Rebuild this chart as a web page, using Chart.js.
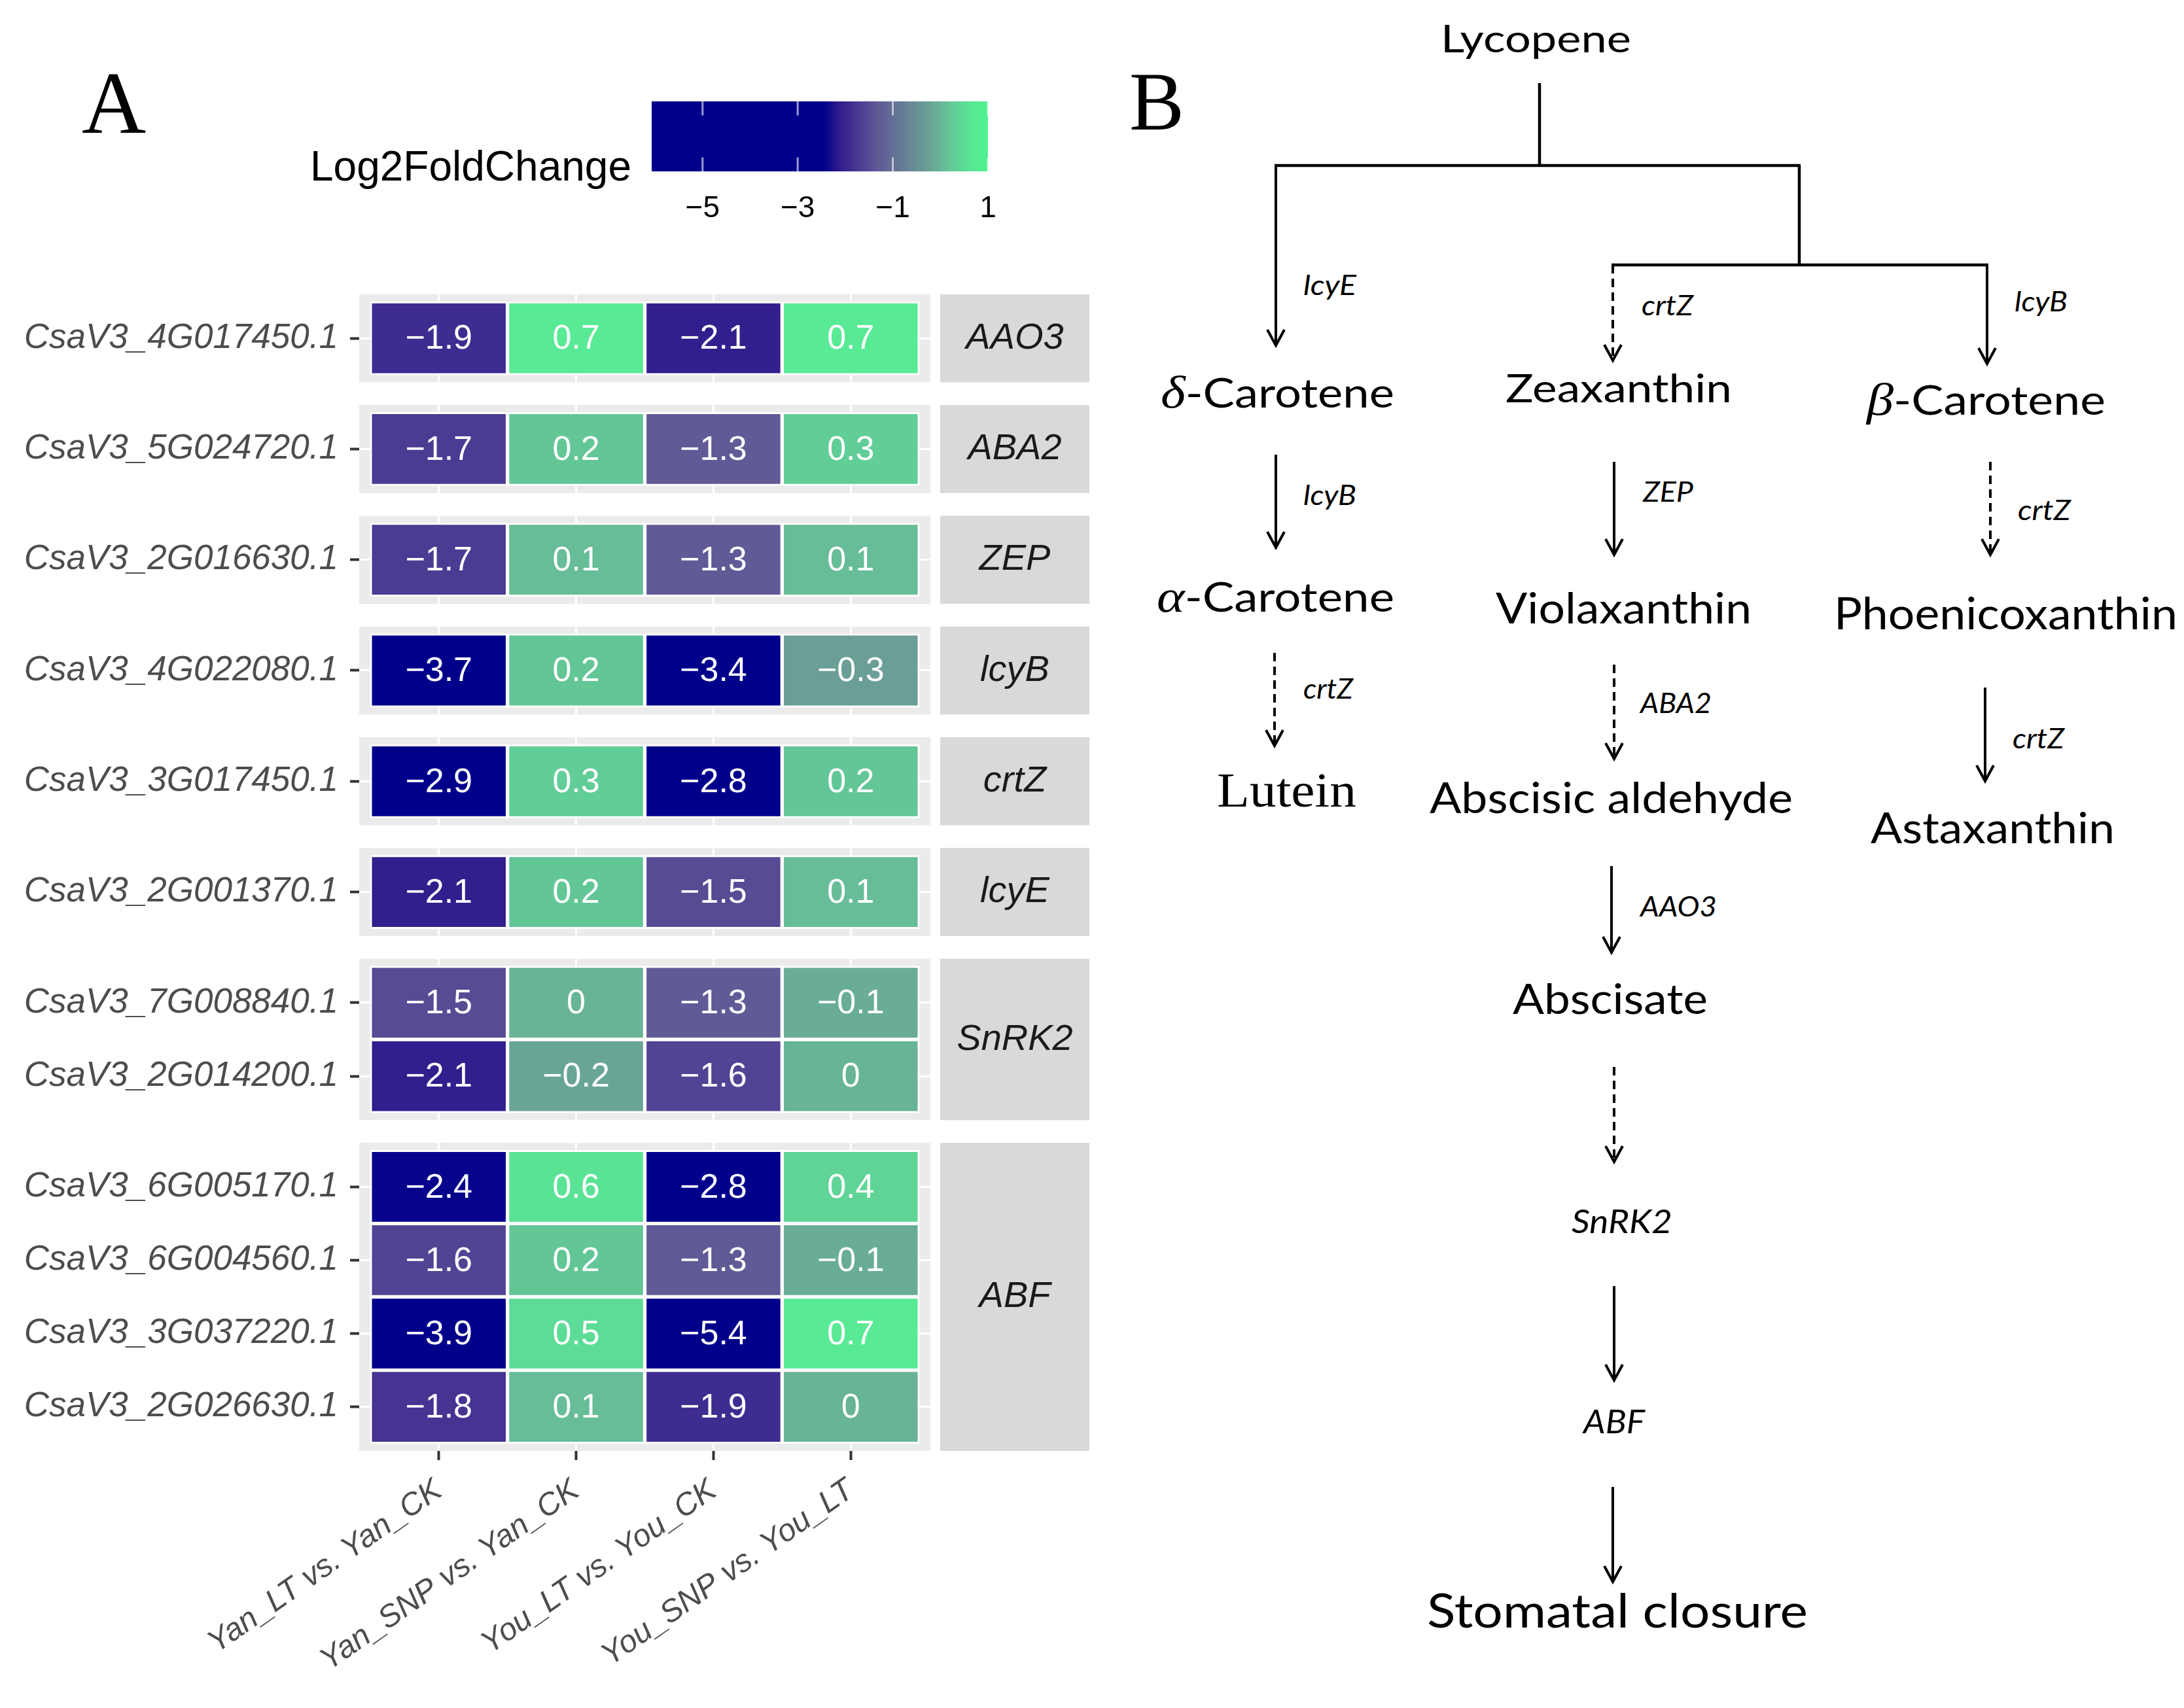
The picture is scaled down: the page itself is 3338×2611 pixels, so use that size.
<!DOCTYPE html>
<html>
<head>
<meta charset="utf-8">
<script src="https://cdn.jsdelivr.net/npm/chart.js@4.4.1/dist/chart.umd.min.js"></script>
<style>
  html, body { margin: 0; padding: 0; background: #fff; }
  #page { position: relative; width: 3338px; height: 2611px; overflow: hidden; background: #fff; }
  #pathway { position: absolute; left: 0; top: 0; }
  #heat { position: absolute; left: 0; top: 400px; }
  #scaleBar { position: absolute; left: 400px; top: 100px; }
</style>
</head>
<body>
<div id="page">
  <svg id="pathway" width="3338" height="2611" xmlns="http://www.w3.org/2000/svg"></svg>
  <canvas id="heat" width="1700" height="2211"></canvas>
  <canvas id="scaleBar" width="1200" height="300"></canvas>
</div>
<script>
// --- data ---
const comparisons = ['Yan_LT vs. Yan_CK', 'Yan_SNP vs. Yan_CK', 'You_LT vs. You_CK', 'You_SNP vs. You_LT'];
const genes = ['CsaV3_4G017450.1', 'CsaV3_5G024720.1', 'CsaV3_2G016630.1', 'CsaV3_4G022080.1',
  'CsaV3_3G017450.1', 'CsaV3_2G001370.1', 'CsaV3_7G008840.1', 'CsaV3_2G014200.1',
  'CsaV3_6G005170.1', 'CsaV3_6G004560.1', 'CsaV3_3G037220.1', 'CsaV3_2G026630.1'];
const geneGroups = ['AAO3', 'ABA2', 'ZEP', 'lcyB', 'crtZ', 'lcyE', 'SnRK2', 'SnRK2', 'ABF', 'ABF', 'ABF', 'ABF'];
const yanLT  = [-1.9, -1.7, -1.7, -3.7, -2.9, -2.1, -1.5, -2.1, -2.4, -1.6, -3.9, -1.8];
const yanSNP = [0.7, 0.2, 0.1, 0.2, 0.3, 0.2, 0, -0.2, 0.6, 0.2, 0.5, 0.1];
const youLT  = [-2.1, -1.3, -1.3, -3.4, -2.8, -1.5, -1.3, -1.6, -2.8, -1.3, -5.4, -1.9];
const youSNP = [0.7, 0.3, 0.1, -0.3, 0.2, 0.1, -0.1, 0, 0.4, -0.1, 0.7, 0];
const legendTicks = [-5, -3, -1, 1];
const legendRange = [-6.07, 1];

const columns = [yanLT, yanSNP, youLT, youSNP];

// colour ramp (darkblue -> grey-violet -> seagreen)
const rampStops = [
  [-6.1, '#00008B'], [-2.45, '#00008B'], [-2.1, '#331E8D'], [-1.9, '#3F2C90'],
  [-1.7, '#4C3B93'], [-1.5, '#574B94'], [-1.3, '#605A96'], [-0.3, '#6A9E96'],
  [0, '#68B497'], [0.2, '#63C697'], [0.7, '#58EA95'], [1, '#4DF290']
];
function hexToRgb(h) {
  const n = parseInt(h.slice(1), 16);
  return [(n >> 16) & 255, (n >> 8) & 255, n & 255];
}
function fillFor(v) {
  if (v <= rampStops[0][0]) return rampStops[0][1];
  for (let i = 1; i < rampStops.length; i++) {
    if (v <= rampStops[i][0]) {
      const [v0, c0] = rampStops[i - 1];
      const [v1, c1] = rampStops[i];
      const t = (v - v0) / (v1 - v0);
      const a = hexToRgb(c0), b = hexToRgb(c1);
      return 'rgb(' + a.map((c, k) => Math.round(c + (b[k] - c) * t)).join(',') + ')';
    }
  }
  return rampStops[rampStops.length - 1][1];
}
const fmt = v => String(v).replace('-', '\u2212');

// facet layout in row units
const facets = [...new Set(geneGroups)];
const PAD = 0.1, GAP = 0.31;
const rowMid = [], facetBox = [];
let cursor = 0;
facets.forEach((f, k) => {
  if (k) cursor += GAP;
  const top = cursor;
  cursor += PAD;
  geneGroups.forEach((g, i) => {
    if (g === f) { rowMid[i] = cursor + 0.5; cursor += 1; }
  });
  cursor += PAD;
  facetBox.push({ name: f, top: top, bottom: cursor });
});
const rowSpan = cursor;

const sansFamily = '"Liberation Sans", Arial, sans-serif';

const facetPanels = {
  id: 'facetPanels',
  beforeDraw(chart) {
    const { ctx, chartArea: a, scales: { y } } = chart;
    ctx.save();
    ctx.fillStyle = '#EBEBEB';
    facetBox.forEach(b => {
      const t = y.getPixelForValue(b.top), btm = y.getPixelForValue(b.bottom);
      ctx.fillRect(a.left, t, a.right - a.left, btm - t);
    });
    ctx.restore();
  },
  afterDraw(chart) {
    const { ctx, chartArea: a, scales: { y } } = chart;
    ctx.save();
    facetBox.forEach(b => {
      const t = y.getPixelForValue(b.top), btm = y.getPixelForValue(b.bottom);
      ctx.fillStyle = '#D9D9D9';
      ctx.fillRect(a.right + 15, t, 228, btm - t);
      ctx.fillStyle = '#1A1A1A';
      ctx.font = 'italic 56px ' + sansFamily;
      ctx.textAlign = 'center';
      ctx.textBaseline = 'middle';
      ctx.fillText(b.name, a.right + 15 + 114, (t + btm) / 2);
    });
    ctx.restore();
  }
};

const cellText = {
  id: 'cellText',
  afterDatasetsDraw(chart) {
    const ctx = chart.ctx;
    ctx.save();
    ctx.fillStyle = '#FFFFFF';
    ctx.font = '52px ' + sansFamily;
    ctx.textAlign = 'center';
    ctx.textBaseline = 'middle';
    chart.data.datasets.forEach((ds, i) => {
      chart.getDatasetMeta(i).data.forEach((bar, j) => {
        ctx.fillText(fmt(ds.data[j].v), bar.x, (bar.y + bar.base) / 2 + 2);
      });
    });
    ctx.restore();
  }
};

const datasets = genes.map((g, i) => ({
  label: g,
  data: columns.map((col, j) => ({ x: j, y: [rowMid[i] - 0.5, rowMid[i] + 0.5], v: col[i] })),
  backgroundColor: ctx => (ctx.raw ? fillFor(ctx.raw.v) : '#000'),
  borderColor: '#FFFFFF',
  borderWidth: 3,
  borderSkipped: false,
  grouped: false,
  barPercentage: 1,
  categoryPercentage: 1
}));

new Chart(document.getElementById('heat'), {
  type: 'bar',
  data: { datasets: datasets },
  options: {
    responsive: false,
    animation: false,
    devicePixelRatio: 1,
    events: [],
    layout: { padding: { left: 0, right: 278, top: 47, bottom: 0 } },
    plugins: { legend: { display: false }, tooltip: { enabled: false } },
    scales: {
      x: {
        type: 'linear',
        min: -0.58,
        max: 3.58,
        offset: false,
        afterBuildTicks: s => { s.ticks = comparisons.map((c, j) => ({ value: j })); },
        afterFit: s => { s.height = 393; },
        border: { display: false },
        grid: { offset: false, color: '#FFFFFF', lineWidth: 3, tickColor: '#333333', tickLength: 14, tickWidth: 4 },
        ticks: {
          autoSkip: false,
          minRotation: 35,
          maxRotation: 35,
          padding: 18,
          color: '#4D4D4D',
          font: { family: sansFamily, size: 48, style: 'italic' },
          callback: (v, i) => comparisons[i]
        }
      },
      y: {
        type: 'linear',
        reverse: true,
        min: 0,
        max: rowSpan,
        afterBuildTicks: s => { s.ticks = rowMid.map(v => ({ value: v })); },
        afterFit: s => { s.width = 549; },
        border: { display: false },
        grid: { color: '#FFFFFF', lineWidth: 3, tickColor: '#333333', tickLength: 14, tickWidth: 4 },
        ticks: {
          autoSkip: false,
          padding: 18,
          color: '#4D4D4D',
          font: { family: sansFamily, size: 53, style: 'italic' },
          callback: (v, i) => genes[i]
        }
      }
    }
  },
  plugins: [facetPanels, cellText]
});

// colour bar legend
const colourBar = {
  id: 'colourBar',
  afterDraw(chart) {
    const { ctx, chartArea: a, scales: { x } } = chart;
    ctx.save();
    for (let px = Math.floor(a.left); px < Math.ceil(a.right); px++) {
      ctx.fillStyle = fillFor(x.getValueForPixel(px + 0.5));
      ctx.fillRect(px, a.top, 1, a.bottom - a.top);
    }
    const seg = (a.bottom - a.top) / 5;
    ctx.strokeStyle = 'rgba(255,255,255,0.6)';
    ctx.lineWidth = 3;
    legendTicks.forEach(t => {
      const px = x.getPixelForValue(t);
      ctx.beginPath();
      ctx.moveTo(px, a.top); ctx.lineTo(px, a.top + seg);
      ctx.moveTo(px, a.bottom - seg); ctx.lineTo(px, a.bottom);
      ctx.stroke();
    });
    ctx.fillStyle = '#000000';
    ctx.font = '64px ' + sansFamily;
    ctx.textAlign = 'right';
    ctx.textBaseline = 'alphabetic';
    ctx.fillText('Log2FoldChange', a.left - 31, a.top + 121);
    ctx.restore();
  }
};

new Chart(document.getElementById('scaleBar'), {
  type: 'scatter',
  data: { datasets: [] },
  options: {
    responsive: false,
    animation: false,
    devicePixelRatio: 1,
    events: [],
    layout: { padding: { left: 596, right: 90, top: 55, bottom: 0 } },
    plugins: { legend: { display: false }, tooltip: { enabled: false } },
    scales: {
      x: {
        type: 'linear',
        min: legendRange[0],
        max: legendRange[1],
        afterBuildTicks: s => { s.ticks = legendTicks.map(v => ({ value: v })); },
        afterFit: s => { s.height = 138; },
        border: { display: false },
        grid: { display: false, drawTicks: false },
        ticks: {
          autoSkip: false,
          maxRotation: 0,
          padding: 30,
          color: '#000000',
          font: { family: sansFamily, size: 46 },
          callback: v => fmt(v)
        }
      },
      y: { display: false, min: 0, max: 1 }
    }
  },
  plugins: [colourBar]
});

// --- panel letters and pathway diagram (panel B) ---
const svg = document.getElementById('pathway');
const NS = 'http://www.w3.org/2000/svg';
function el(tag, attrs, parent) {
  const e = document.createElementNS(NS, tag);
  Object.keys(attrs).forEach(k => e.setAttribute(k, attrs[k]));
  (parent || svg).appendChild(e);
  return e;
}
function label(txt, x, y, size, opts) {
  opts = opts || {};
  const t = el('text', {
    x: x, y: y,
    'font-size': size,
    'font-family': opts.family || 'Lato, "Open Sans", sans-serif',
    'font-style': opts.italic ? 'italic' : 'normal',
    fill: '#000'
  });
  if (opts.width) { t.setAttribute('textLength', opts.width); t.setAttribute('lengthAdjust', 'spacingAndGlyphs'); }
  if (opts.greek) {
    const g = el('tspan', { 'font-family': '"Liberation Serif", "DejaVu Serif", serif', 'font-style': 'italic', 'font-size': size * 1.12 }, t);
    g.textContent = opts.greek;
    const r = el('tspan', {}, t);
    r.textContent = txt;
  } else {
    t.textContent = txt;
  }
  return t;
}

label('A', 125, 203, 136, { family: '"Liberation Serif", "Times New Roman", serif' });
label('B', 1726, 198, 126, { family: '"Liberation Serif", "Times New Roman", serif' });

const compounds = [
  ['Lycopene', 2202, 80, 291, 58],
  ['-Carotene', 1774, 623, 357, 62, 'δ'],
  ['Zeaxanthin', 2301, 615, 346, 60],
  ['-Carotene', 2853, 634, 365, 62, 'β'],
  ['-Carotene', 1768, 935, 363, 62, 'α'],
  ['Violaxanthin', 2286, 953, 391, 65],
  ['Phoenicoxanthin', 2803, 962, 525, 67],
  ['Abscisic aldehyde', 2185, 1243, 555, 66],
  ['Astaxanthin', 2859, 1289, 373, 66],
  ['Abscisate', 2312, 1550, 298, 64],
  ['Stomatal closure', 2181, 2488, 582, 72]
];
compounds.forEach(c => label(c[0], c[1], c[2], c[4], { width: c[3], greek: c[5] }));
label('Lutein', 1860, 1233, 74, { width: 213, family: '"Liberation Serif", "Times New Roman", serif' });
label('SnRK2', 2402, 1885, 50, { width: 154, italic: true });
label('ABF', 2420, 2191, 50, { width: 94, italic: true });

const enzymes = [
  ['lcyE', 1992, 451, 81], ['crtZ', 2509, 482, 79], ['lcyB', 3079, 476, 81],
  ['lcyB', 1992, 772, 81], ['ZEP', 2511, 767, 77], ['crtZ', 3084, 795, 81],
  ['crtZ', 1992, 1068, 76], ['ABA2', 2507, 1090, 109], ['crtZ', 3076, 1144, 79],
  ['AAO3', 2507, 1401, 117]
];
enzymes.forEach(e => label(e[0], e[1], e[2], 42, { width: e[3], italic: true }));

// tree lines
[[2353, 127, 2353, 253], [1948, 253, 2752, 253], [2750, 253, 2750, 405], [2463, 405, 3039, 405]]
  .forEach(l => el('line', { x1: l[0], y1: l[1], x2: l[2], y2: l[3], stroke: '#000', 'stroke-width': 4.5 }));

const arrows = [
  [1950, 253, 528, false], [2465, 405, 551, true], [3037, 405, 556, false],
  [1950, 695, 837, false], [2467, 706, 848, false], [3042, 706, 848, true],
  [1948, 998, 1140, true], [2467, 1016, 1160, true], [3034, 1051, 1194, false],
  [2463, 1324, 1456, false], [2467, 1631, 1776, true], [2467, 1966, 2110, false],
  [2465, 2273, 2418, false]
];
arrows.forEach(([x, y1, y2, dashed]) => {
  const attrs = { x1: x, y1: y1, x2: x, y2: y2 - 2, stroke: '#000', 'stroke-width': 4 };
  if (dashed) attrs['stroke-dasharray'] = '13 8';
  el('line', attrs);
  el('polyline', { points: `${x - 13},${y2 - 24} ${x},${y2} ${x + 13},${y2 - 24}`, fill: 'none', stroke: '#000', 'stroke-width': 4 });
});
</script>
</body>
</html>
